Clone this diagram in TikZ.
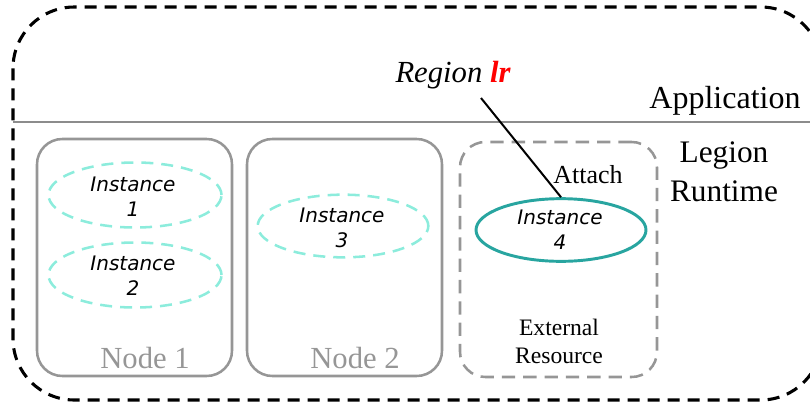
\documentclass[tikz,border=0pt]{standalone}
\usepackage{fontspec}
\setmainfont{Liberation Serif}
\newfontfamily\instfont{DejaVu Sans}
\usetikzlibrary{shapes.geometric}
\definecolor{boxgray}{RGB}{150,150,150}
\definecolor{linegray}{RGB}{140,140,140}
\definecolor{lightcyan}{RGB}{140,236,220}
\definecolor{tealring}{RGB}{40,165,160}
\tikzset{
  outerbox/.style={draw=black, line width=2.3pt, dash pattern=on 9pt off 6pt, rounded corners=46pt},
  nodebox/.style={draw=boxgray, line width=1.9pt, rounded corners=19pt, rectangle, minimum width=146.25pt, minimum height=177.75pt, inner sep=0pt},
  extbox/.style={draw=boxgray, line width=1.9pt, rounded corners=19pt, rectangle, dash pattern=on 10pt off 6pt, minimum width=147.75pt, minimum height=176.25pt, inner sep=0pt},
  instdash/.style={ellipse, draw=lightcyan, line width=1.9pt, dash pattern=on 9pt off 6pt, inner sep=0pt},
  instsolid/.style={ellipse, draw=tealring, line width=2.2pt, inner sep=0pt},
  insttext/.style={font=\instfont\itshape\fontsize{15}{18.5}\selectfont, align=center, inner sep=0pt},
  nodelabel/.style={text=boxgray, font=\fontsize{23}{27}\selectfont, anchor=base, inner sep=0pt},
  bigtext/.style={font=\fontsize{24}{29}\selectfont, align=center, inner sep=0pt},
}
\begin{document}
\begin{tikzpicture}[x=0.75pt, y=-0.75pt]
\useasboundingbox (0,0) rectangle (810,404);
\begin{scope}
\clip (0,0) rectangle (810,404);
% outer application / runtime frame
\draw[outerbox] (13,7) rectangle (822,400);
\draw[draw=linegray, line width=2.2pt] (13,122) -- (822,122);
\end{scope}

% machine boxes
\node[nodebox] (n1) at (134.5,257.5) {};
\node[nodebox] (n2) at (344.5,257.5) {};
\node[extbox] (ext) at (558.5,259.5) {};

% instances
\node[instdash, minimum width=129.75pt, minimum height=48.75pt] (i1) at (135,195) {};
\node[instdash, minimum width=129.75pt, minimum height=48.75pt] (i2) at (135,275) {};
\node[instdash, minimum width=128pt, minimum height=47pt] (i3) at (343,226) {};
\node[instsolid, minimum width=127.5pt, minimum height=47pt] (i4) at (561,230) {};

\node[insttext] (t1) at (133,197) {Instance\\1};
\node[insttext] (t2) at (133,276) {Instance\\2};
\node[insttext] (t3) at (342,228) {Instance\\3};
\node[insttext] (t4) at (560,230) {Instance\\4};

% labels
\node[nodelabel] (l1) at (145,368) {Node 1};
\node[nodelabel] (l2) at (355,368) {Node 2};
\node[font=\fontsize{17.7}{21}\selectfont, align=center, inner sep=0pt] (extlabel) at (559,341) {External\\Resource};
\node[font=\fontsize{19.5}{23}\selectfont, anchor=base, inner sep=0pt] (attach) at (588,183) {Attach};
\node[bigtext, anchor=base] (app) at (725,108) {Application};
\node[bigtext, font=\fontsize{23.5}{29}\selectfont] (legion) at (724,172) {Legion\\Runtime};
\node[font=\fontsize{23}{27}\selectfont\itshape, anchor=base, inner sep=0pt] (region) at (453,82) {Region \textbf{\color{red}lr}};

% attach connector
\coordinate (rl) at (481,98);
\draw[line width=1.5pt, black] (rl) -- (i4.north);
\end{tikzpicture}
\end{document}
